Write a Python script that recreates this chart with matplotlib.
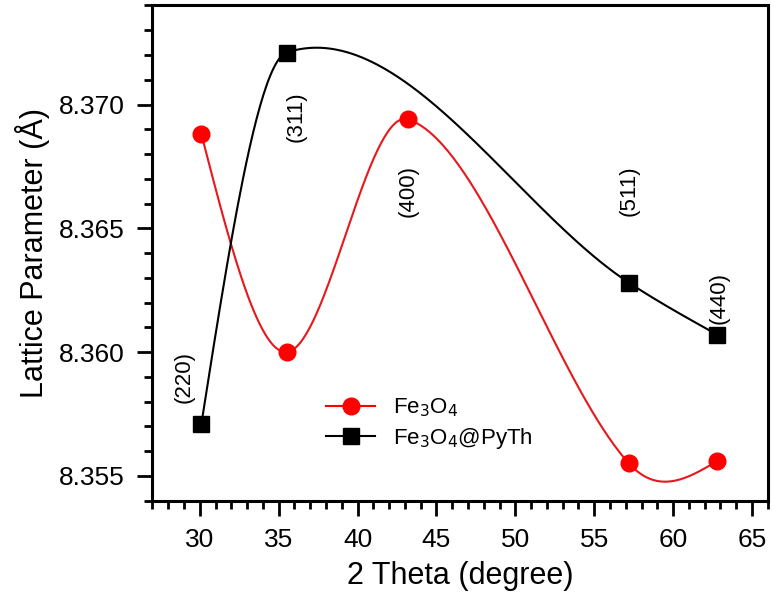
import numpy as np
import matplotlib.pyplot as plt
from matplotlib.ticker import MultipleLocator

plt.rcParams['font.family'] = ['Liberation Sans', 'DejaVu Sans']

# data
theta_fe = [30.1, 35.5, 43.2, 57.2, 62.8]
lat_fe = [8.3688, 8.3600, 8.3694, 8.3555, 8.3556]
theta_py = [30.1, 35.5, 57.2, 62.8]
lat_py = [8.3571, 8.3721, 8.3628, 8.3607]
hkl = ['(220)', '(311)', '(400)', '(511)', '(440)']
hkl_x = [29.0, 36.1, 43.2, 57.2, 62.9]
hkl_y = [8.3590, 8.3695, 8.3665, 8.3665, 8.3622]


def smooth(x, y, n=300):
    # piecewise cubic hermite, tangents from neighbours
    x = np.asarray(x, float)
    y = np.asarray(y, float)
    d = np.diff(y) / np.diff(x)
    m = np.zeros(len(x))
    m[1:-1] = (y[2:] - y[:-2]) / (x[2:] - x[:-2])
    m[0] = 1.5 * d[0] - 0.5 * m[1]
    m[-1] = 1.5 * d[-1] - 0.5 * m[-2]
    xs = np.linspace(x[0], x[-1], n)
    j = np.clip(np.searchsorted(x, xs) - 1, 0, len(x) - 2)
    h = x[j + 1] - x[j]
    t = (xs - x[j]) / h
    ys = (2*t**3 - 3*t**2 + 1) * y[j] + (t**3 - 2*t**2 + t) * h * m[j] \
        + (-2*t**3 + 3*t**2) * y[j + 1] + (t**3 - t**2) * h * m[j + 1]
    return xs, ys


fig = plt.figure(figsize=(7.74, 6.09), dpi=100)
ax = fig.add_axes([0.197, 0.178, 0.795, 0.813])

xs, ys = smooth(theta_fe, lat_fe)
ax.plot(xs, ys, color='#e8171b', lw=1.5)
xs, ys = smooth(theta_py, lat_py)
ax.plot(xs, ys, color='black', lw=1.5)

ax.plot(theta_fe, lat_fe, 'o', color='red', ms=12)
ax.plot(theta_py, lat_py, 's', color='black', ms=11)

ax.plot([], [], '-o', color='red', ms=12, lw=1.5, label='Fe$_3$O$_4$')
ax.plot([], [], '-s', color='black', ms=11, lw=1.5, label='Fe$_3$O$_4$@PyTh')
ax.legend(loc='lower left', bbox_to_anchor=(0.25, 0.06), frameon=False,
          fontsize=16, handlelength=2.2, labelspacing=0.3)

for t, x, y in zip(hkl, hkl_x, hkl_y):
    ax.text(x, y, t, rotation=90, ha='center', va='center', fontsize=16)

ax.set_xlim(27, 66)
ax.set_ylim(8.354, 8.374)
ax.xaxis.set_major_locator(MultipleLocator(5))
ax.xaxis.set_minor_locator(MultipleLocator(1))
ax.yaxis.set_major_locator(MultipleLocator(0.005))
ax.yaxis.set_minor_locator(MultipleLocator(0.001))
ax.yaxis.set_major_formatter(plt.FormatStrFormatter('%.3f'))

for s in ax.spines.values():
    s.set_linewidth(2.2)
ax.tick_params(which='major', length=11, width=2, labelsize=19, pad=9)
ax.tick_params(which='minor', length=5.5, width=2)

ax.set_xlabel('2 Theta (degree)', fontsize=22, labelpad=6)
ax.set_ylabel('Lattice Parameter (Å)', fontsize=22, labelpad=6)

fig.savefig('out.png', dpi=100)
